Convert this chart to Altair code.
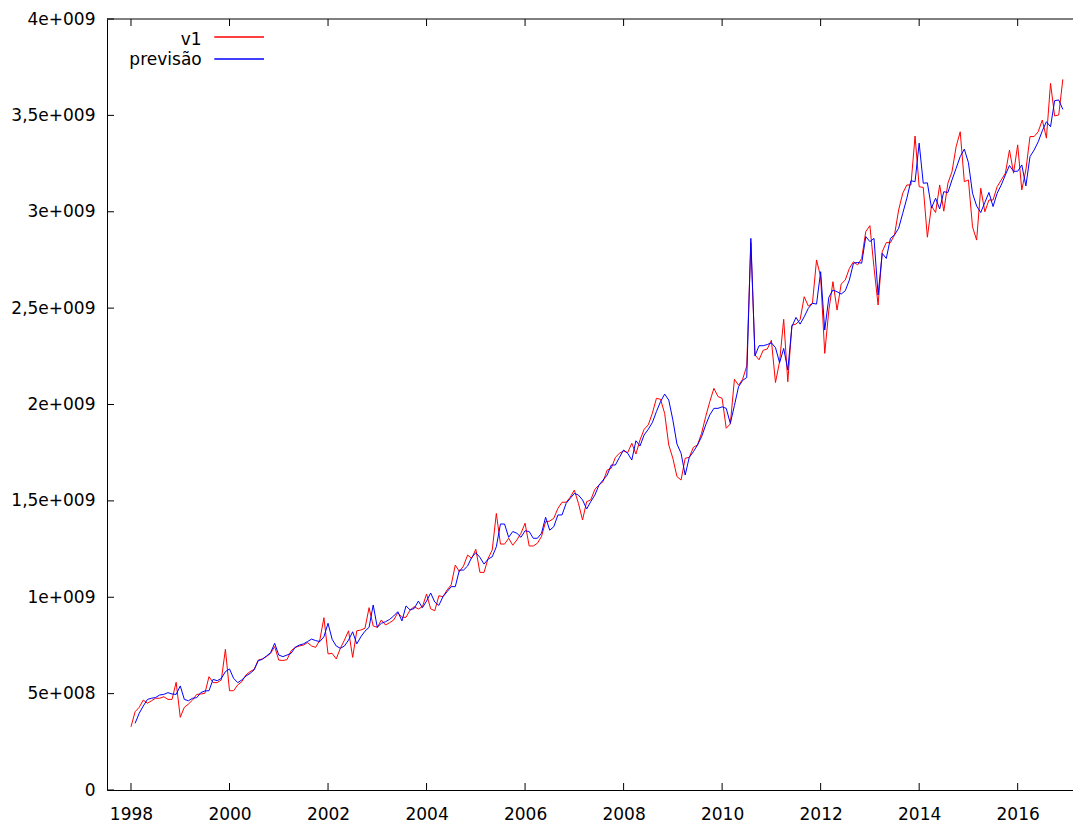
import altair as alt
import pandas as pd

# Monthly series, Jan 1998 .. Dec 2016, values in billions
v1 = [
    0.328, 0.406, 0.429, 0.467, 0.450, 0.463, 0.476, 0.476, 0.484, 0.470, 0.470, 0.559,
    0.377, 0.429, 0.446, 0.467, 0.496, 0.498, 0.502, 0.588, 0.557, 0.557, 0.571, 0.730,
    0.515, 0.515, 0.545, 0.562, 0.597, 0.614, 0.626, 0.674, 0.680, 0.692, 0.709, 0.744,
    0.674, 0.672, 0.676, 0.722, 0.740, 0.747, 0.752, 0.765, 0.747, 0.740, 0.778, 0.894,
    0.706, 0.709, 0.680, 0.735, 0.778, 0.826, 0.688, 0.826, 0.830, 0.839, 0.946, 0.851,
    0.844, 0.882, 0.856, 0.868, 0.882, 0.920, 0.896, 0.896, 0.934, 0.951, 0.939, 0.951,
    1.017, 0.940, 0.930, 1.008, 1.003, 1.038, 1.064, 1.167, 1.133, 1.162, 1.219, 1.202,
    1.249, 1.129, 1.129, 1.202, 1.245, 1.435, 1.276, 1.276, 1.306, 1.270, 1.297, 1.332,
    1.384, 1.266, 1.266, 1.280, 1.315, 1.392, 1.395, 1.410, 1.461, 1.493, 1.493, 1.519,
    1.556, 1.487, 1.401, 1.496, 1.505, 1.560, 1.582, 1.600, 1.660, 1.669, 1.726, 1.747,
    1.759, 1.750, 1.799, 1.743, 1.816, 1.871, 1.894, 1.954, 2.032, 2.027, 1.954, 1.790,
    1.721, 1.626, 1.608, 1.721, 1.726, 1.778, 1.790, 1.851, 1.937, 2.015, 2.084, 2.041,
    2.032, 1.877, 1.899, 2.131, 2.100, 2.131, 2.200, 2.840, 2.257, 2.232, 2.281, 2.288,
    2.333, 2.114, 2.222, 2.442, 2.118, 2.412, 2.417, 2.440, 2.559, 2.511, 2.525, 2.750,
    2.663, 2.265, 2.490, 2.637, 2.490, 2.625, 2.646, 2.706, 2.741, 2.724, 2.758, 2.897,
    2.928, 2.710, 2.516, 2.793, 2.840, 2.840, 2.880, 3.009, 3.096, 3.139, 3.139, 3.393,
    3.130, 3.126, 2.868, 3.030, 2.996, 3.139, 3.003, 3.148, 3.208, 3.337, 3.415, 3.156,
    3.165, 2.922, 2.853, 3.122, 3.000, 3.061, 3.061, 3.130, 3.165, 3.200, 3.320, 3.200,
    3.347, 3.113, 3.217, 3.390, 3.390, 3.415, 3.476, 3.382, 3.666, 3.497, 3.502, 3.687,
]

previsao = [
    None, 0.346, 0.398, 0.436, 0.470, 0.476, 0.480, 0.493, 0.496, 0.505, 0.498, 0.496,
    0.540, 0.470, 0.463, 0.476, 0.479, 0.505, 0.514, 0.515, 0.574, 0.567, 0.579, 0.614,
    0.628, 0.579, 0.557, 0.571, 0.591, 0.605, 0.623, 0.671, 0.678, 0.695, 0.712, 0.761,
    0.700, 0.692, 0.700, 0.709, 0.740, 0.752, 0.758, 0.770, 0.783, 0.775, 0.770, 0.795,
    0.865, 0.782, 0.747, 0.735, 0.747, 0.778, 0.821, 0.758, 0.795, 0.824, 0.844, 0.960,
    0.844, 0.865, 0.873, 0.885, 0.903, 0.925, 0.877, 0.955, 0.934, 0.942, 0.980, 0.946,
    0.980, 1.022, 0.975, 0.958, 1.003, 1.029, 1.055, 1.055, 1.141, 1.141, 1.162, 1.207,
    1.231, 1.207, 1.172, 1.198, 1.210, 1.262, 1.380, 1.380, 1.311, 1.341, 1.332, 1.311,
    1.345, 1.341, 1.306, 1.306, 1.332, 1.415, 1.348, 1.366, 1.427, 1.427, 1.487, 1.513,
    1.539, 1.530, 1.505, 1.458, 1.496, 1.530, 1.582, 1.608, 1.634, 1.686, 1.686, 1.726,
    1.764, 1.747, 1.712, 1.812, 1.785, 1.842, 1.871, 1.906, 1.963, 2.015, 2.054, 2.023,
    1.920, 1.795, 1.747, 1.634, 1.726, 1.755, 1.790, 1.833, 1.894, 1.946, 1.980, 1.980,
    1.988, 1.980, 1.902, 1.995, 2.092, 2.125, 2.140, 2.862, 2.252, 2.305, 2.305, 2.311,
    2.320, 2.295, 2.217, 2.291, 2.179, 2.404, 2.452, 2.417, 2.455, 2.499, 2.525, 2.521,
    2.689, 2.386, 2.556, 2.594, 2.585, 2.573, 2.590, 2.646, 2.733, 2.737, 2.733, 2.871,
    2.845, 2.862, 2.568, 2.784, 2.758, 2.862, 2.880, 2.914, 2.992, 3.070, 3.161, 3.156,
    3.356, 3.148, 3.150, 3.020, 3.070, 3.015, 3.104, 3.100, 3.165, 3.225, 3.286, 3.325,
    3.255, 3.096, 3.030, 2.996, 3.048, 3.100, 3.027, 3.096, 3.139, 3.191, 3.240, 3.210,
    3.210, 3.243, 3.134, 3.286, 3.320, 3.363, 3.420, 3.467, 3.441, 3.576, 3.580, 3.531,
]

x_ticks = [1998, 2000, 2002, 2004, 2006, 2008, 2010, 2012, 2014, 2016]
y_ticks = [0, 5e8, 1e9, 1.5e9, 2e9, 2.5e9, 3e9, 3.5e9, 4e9]
y_tick_labels = ["0", "5e+008", "1e+009", "1,5e+009", "2e+009",
                 "2,5e+009", "3e+009", "3,5e+009", "4e+009"]

series_names = ["v1", "previsão"]
series_colors = ["#ff0000", "#0000ff"]

W, H = 966, 771
FONT = "DejaVu Sans"
FS = 17
TICK = 7

t = [1998 + m / 12 for m in range(len(v1))]
df_v1 = pd.DataFrame({"t": t, "val": [v * 1e9 for v in v1]})
df_prev = pd.DataFrame({"t": t, "val": [None if v is None else v * 1e9 for v in previsao]}).dropna()

xscale = alt.Scale(domain=[1997.513, 2017.123], nice=False, zero=False)
yscale = alt.Scale(domain=[0, 4e9], nice=False)

label_expr = "[" + ",".join("'%s'" % s for s in y_tick_labels) + "][round(datum.value/500000000)]"

x_axis = alt.Axis(values=x_ticks, format="d", title=None, grid=False, ticks=False,
                  domain=True, domainColor="black", domainWidth=1,
                  labelFont=FONT, labelFontSize=FS, labelColor="black",
                  labelPadding=16, labelFlush=False, labelOverlap=False)
y_axis = alt.Axis(values=y_ticks, labelExpr=label_expr, title=None, grid=False, ticks=False,
                  domain=True, domainColor="black", domainWidth=1,
                  labelFont=FONT, labelFontSize=FS, labelColor="black",
                  labelPadding=12, labelFlush=False, labelOverlap=False,
                  labelBaseline="middle")

line_v1 = alt.Chart(df_v1).mark_line(color=series_colors[0], strokeWidth=1).encode(
    x=alt.X("t:Q", scale=xscale, axis=x_axis),
    y=alt.Y("val:Q", scale=yscale, axis=y_axis),
)
line_prev = alt.Chart(df_prev).mark_line(color=series_colors[1], strokeWidth=1).encode(
    x=alt.X("t:Q", scale=xscale),
    y=alt.Y("val:Q", scale=yscale),
)

# inward tick marks (left, bottom, mirrored on top)
df_yt = pd.DataFrame({"v": y_ticks})
df_xt = pd.DataFrame({"v": x_ticks})
ticks_left = alt.Chart(df_yt).mark_rule(color="black", strokeWidth=1).encode(
    y=alt.Y("v:Q", scale=yscale), x=alt.value(0), x2=alt.value(TICK))
ticks_bottom = alt.Chart(df_xt).mark_rule(color="black", strokeWidth=1).encode(
    x=alt.X("v:Q", scale=xscale), y=alt.value(H - TICK), y2=alt.value(H))
ticks_top = alt.Chart(df_xt).mark_rule(color="black", strokeWidth=1).encode(
    x=alt.X("v:Q", scale=xscale), y=alt.value(0), y2=alt.value(TICK))

# top border
df_border = pd.DataFrame({"k": [0]})
top_border = alt.Chart(df_border).mark_rule(color="black", strokeWidth=1).encode(
    x=alt.value(0), x2=alt.value(W), y=alt.value(0))

# key in the upper-left corner (pixel positions inside the plot area)
key_text_y = [21, 41]
key_line_y = [18, 40]
key_line_x = [107.3, 157.0]
df_key = pd.DataFrame({"name": series_names, "ty": key_text_y})
key_text = alt.Chart(df_key).mark_text(
    align="right", baseline="middle", font=FONT, fontSize=FS, color="black"
).encode(
    text="name:N",
    x=alt.value(94.7),
    y=alt.Y("ty:Q", scale=None),
)
key_lines = [
    alt.Chart(pd.DataFrame({"px": key_line_x, "py": [ly, ly]}))
    .mark_line(stroke=c, color=c, strokeWidth=1.3)
    .encode(x=alt.X("px:Q", scale=None), y=alt.Y("py:Q", scale=None))
    for c, ly in zip(series_colors, key_line_y)
]

chart = alt.layer(
    line_v1, line_prev, ticks_left, ticks_bottom, ticks_top, top_border, key_text, *key_lines
).properties(
    width=W, height=H,
    autosize=alt.AutoSizeParams(type="none"),
    padding={"left": 107, "top": 19, "right": 0, "bottom": 33},
    background="white",
).configure_view(stroke=None)

chart.save("out.html", embed_options={"renderer": "svg", "actions": False})
